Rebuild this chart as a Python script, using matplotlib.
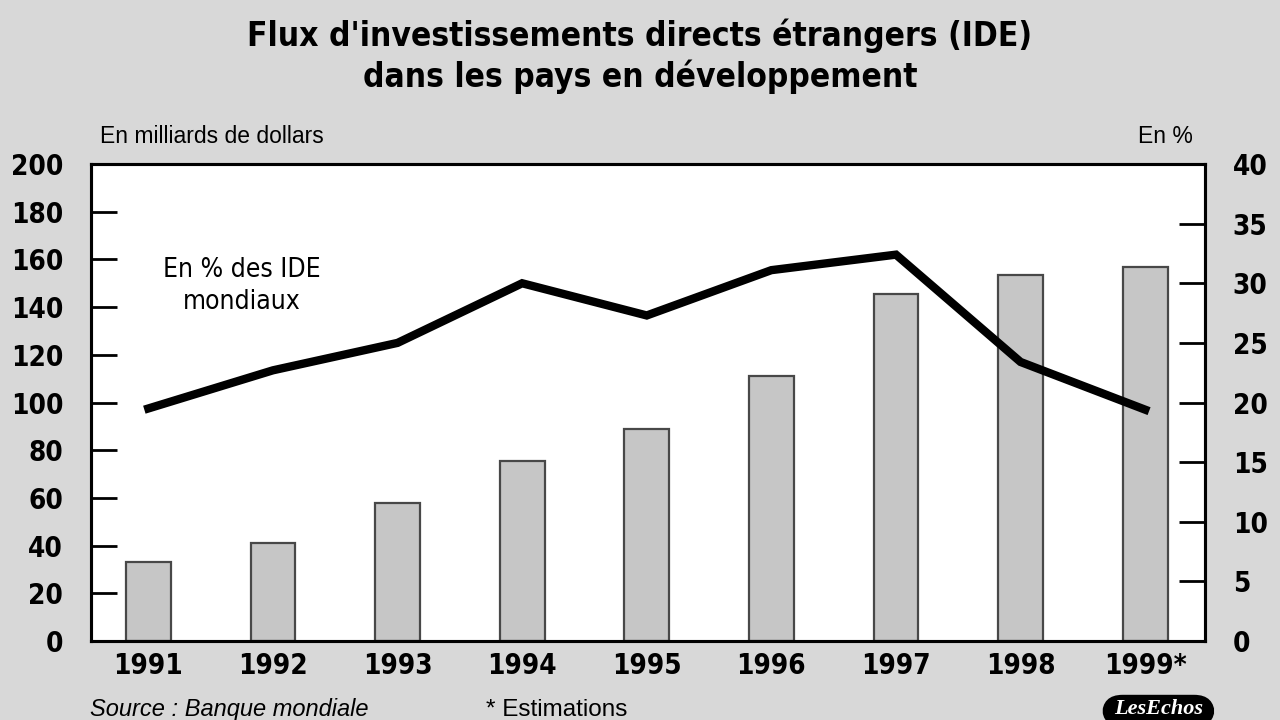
import matplotlib.pyplot as plt
import matplotlib.patches as mpatches
import numpy as np

annees = ["1991", "1992", "1993", "1994", "1995", "1996", "1997", "1998", "1999*"]
ide_milliards = [33, 41, 58, 75.5, 89, 111, 145.5, 153.5, 157]
part_mondiale = [19.5, 22.7, 25.0, 30.0, 27.3, 31.1, 32.4, 23.4, 19.4]

ticks_gauche = [0, 20, 40, 60, 80, 100, 120, 140, 160, 180, 200]
ticks_droite = [0, 5, 10, 15, 20, 25, 30, 35, 40]

FOND = "#d8d8d8"
NORMAL = ["Liberation Sans", "DejaVu Sans"]

plt.rcParams["font.family"] = ["DejaVu Sans"]
plt.rcParams["font.stretch"] = "condensed"

fig = plt.figure(figsize=(12.8, 7.2), dpi=100, facecolor=FOND)
ax = fig.add_axes([0.0711, 0.1097, 0.8703, 0.6625])
ax.set_facecolor("white")

x = np.arange(len(annees))
ax.bar(x, ide_milliards, width=0.36, color="#c6c6c6", edgecolor="#484848", linewidth=1.6, zorder=2)
ax.set_ylim(0, 200)
ax.set_xlim(-0.46, 8.48)

ax2 = ax.twinx()
ax2.plot(x, part_mondiale, color="black", linewidth=6, solid_joinstyle="miter", zorder=3)
ax2.set_ylim(0, 40)

for a in (ax, ax2):
    for s in a.spines.values():
        s.set_linewidth(2.2)
        s.set_color("black")

ax.set_xticks(x)
ax.set_xticklabels(annees, fontsize=20, fontweight="bold")
ax.tick_params(axis="x", length=0, pad=8)

ax.set_yticks(ticks_gauche)
ax.set_yticklabels([str(v) for v in ticks_gauche], fontsize=20, fontweight="bold")
ax.tick_params(axis="y", direction="in", length=19, width=2, pad=20)
ax2.set_yticks(ticks_droite)
ax2.set_yticklabels([str(v) for v in ticks_droite], fontsize=20, fontweight="bold")
ax2.tick_params(axis="y", direction="in", length=19, width=2, pad=20)
# pas de trait aux extremites
for t in (ax.yaxis.get_major_ticks()[0], ax.yaxis.get_major_ticks()[-1],
          ax2.yaxis.get_major_ticks()[0], ax2.yaxis.get_major_ticks()[-1]):
    t.tick1line.set_visible(False)
    t.tick2line.set_visible(False)

ax2.text(0.135, 0.745, "En % des IDE\nmondiaux", transform=ax.transAxes, ha="center", va="center",
         fontsize=19, linespacing=1.3, zorder=4)

fig.text(0.5, 0.951, "Flux d'investissements directs étrangers (IDE)", ha="center", va="center",
         fontsize=24, fontweight="bold")
fig.text(0.5, 0.893, "dans les pays en développement", ha="center", va="center",
         fontsize=24, fontweight="bold")

fig.text(0.078, 0.811, "En milliards de dollars", ha="left", va="center", fontsize=16.5,
         family=NORMAL, stretch="normal")
fig.text(0.932, 0.811, "En %", ha="right", va="center", fontsize=16.5,
         family=NORMAL, stretch="normal")

fig.text(0.07, 0.014, "Source : Banque mondiale", ha="left", va="center", fontsize=17,
         style="italic", family=NORMAL, stretch="normal")
fig.text(0.38, 0.014, "* Estimations", ha="left", va="center", fontsize=17.5,
         family=NORMAL, stretch="normal")

logo = mpatches.FancyBboxPatch((0.861, -0.01), 0.088, 0.045, transform=fig.transFigure,
                               boxstyle="round,pad=0,rounding_size=0.016", facecolor="black",
                               edgecolor="none", mutation_aspect=1.78)
fig.patches.append(logo)
fig.text(0.905, 0.015, "LesEchos", ha="center", va="center", fontsize=16, color="white",
         style="italic", fontweight="bold", family=["Liberation Serif", "DejaVu Serif"],
         stretch="normal")

fig.savefig("out.png", dpi=100, facecolor=FOND)
